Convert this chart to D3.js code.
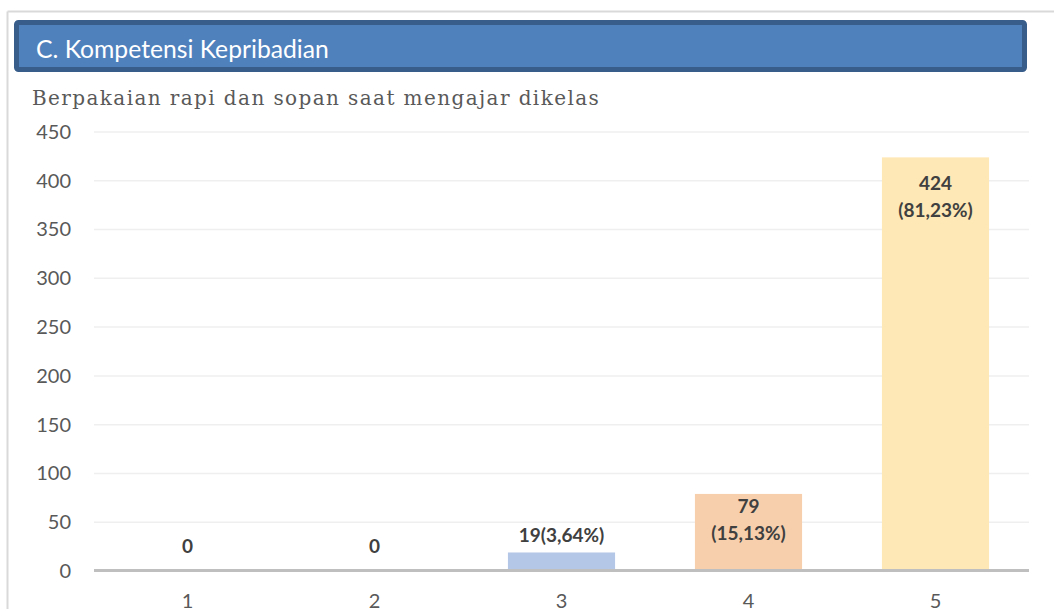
<!DOCTYPE html>
<html>
<head>
<meta charset="utf-8">
<script src="https://cdn.jsdelivr.net/npm/d3@7/dist/d3.min.js"></script>
<style>
  html, body { margin: 0; padding: 0; background: #ffffff; }
  svg { display: block; }
</style>
</head>
<body>
<script>
// Survey answers for "Berpakaian rapi dan sopan saat mengajar dikelas"
const categories = ["1", "2", "3", "4", "5"];
const counts = [0, 0, 19, 79, 424];
const percentLabels = ["", "", "3,64%", "15,13%", "81,23%"];
const barColors = ["#b4c7e7", "#b4c7e7", "#b4c7e7", "#f8cfac", "#fde8b6"];
const yTicks = [0, 50, 100, 150, 200, 250, 300, 350, 400, 450];

const W = 1054, H = 609;
const sans = "Lato, 'Open Sans', sans-serif";
const svg = d3.select("body").append("svg").attr("width", W).attr("height", H);

// outer frame
svg.append("line").attr("x1", 7.5).attr("x2", W).attr("y1", 11.5).attr("y2", 11.5)
  .attr("stroke", "#d9d9d9").attr("stroke-width", 2);
svg.append("line").attr("x1", 7.5).attr("x2", 7.5).attr("y1", 11.5).attr("y2", H)
  .attr("stroke", "#d9d9d9").attr("stroke-width", 2);

// section banner
svg.append("rect").attr("x", 16.5).attr("y", 22.5).attr("width", 1008).attr("height", 47)
  .attr("rx", 2).attr("fill", "#4f81bd").attr("stroke", "#385d8a").attr("stroke-width", 5);
svg.append("text").attr("x", 36).attr("y", 58)
  .attr("font-family", sans).attr("font-size", 24.7)
  .attr("fill", "#ffffff").text("C. Kompetensi Kepribadian");

// chart title
svg.append("text").attr("x", 32).attr("y", 105)
  .attr("font-family", "'DejaVu Serif', 'Liberation Serif', serif").attr("font-size", 20)
  .attr("letter-spacing", 1.4)
  .attr("fill", "#595959").text("Berpakaian rapi dan sopan saat mengajar dikelas");

const plot = { left: 94, right: 1029, top: 132, bottom: 571 };

const x = d3.scaleBand().domain(categories).range([plot.left, plot.right])
  .paddingInner(0.427).paddingOuter(0.2135);
const y = d3.scaleLinear().domain([0, 450]).range([plot.bottom, plot.top]);

// gridlines
svg.append("g").selectAll("line").data(yTicks.filter(d => d > 0)).join("line")
  .attr("x1", plot.left).attr("x2", plot.right)
  .attr("y1", d => y(d)).attr("y2", d => y(d))
  .attr("stroke", "#efefef").attr("stroke-width", 1.5);

// y axis labels
const yAxis = d3.axisLeft(y).tickValues(yTicks).tickSize(0).tickPadding(0);
const gy = svg.append("g").attr("transform", `translate(71,0)`).call(yAxis);
gy.select(".domain").remove();
gy.selectAll("text").attr("font-family", sans)
  .attr("font-size", 20).attr("fill", "#595959");

// bars
const data = categories.map((c, i) => ({ c, v: counts[i], p: percentLabels[i], color: barColors[i] }));
svg.append("g").selectAll("rect").data(data.filter(d => d.v > 0)).join("rect")
  .attr("x", d => x(d.c)).attr("width", x.bandwidth())
  .attr("y", d => y(d.v)).attr("height", d => y(0) - y(d.v))
  .attr("fill", d => d.color);

// x axis
const xAxis = d3.axisBottom(x).tickSize(0).tickPadding(0);
const gx = svg.append("g").attr("transform", `translate(0,${plot.bottom})`).call(xAxis);
gx.select(".domain").remove();
gx.selectAll("text").attr("font-family", sans)
  .attr("font-size", 20).attr("fill", "#595959").attr("dy", null).attr("y", 37);
svg.append("line").attr("x1", plot.left).attr("x2", plot.right)
  .attr("y1", y(0) - 0.5).attr("y2", y(0) - 0.5).attr("stroke", "#bfbfbf").attr("stroke-width", 3);

// value labels
const lbl = svg.append("g").attr("font-family", sans)
  .attr("font-size", 19).attr("font-weight", "bold").attr("fill", "#404040")
  .attr("text-anchor", "middle");
data.forEach(d => {
  const cx = x(d.c) + x.bandwidth() / 2;
  const top = y(d.v);
  if (d.v === 0) {
    lbl.append("text").attr("x", cx).attr("y", top - 18).text(d.v);
  } else if (d.v < 50) {
    lbl.append("text").attr("x", cx).attr("y", top - 10).text(`${d.v}(${d.p})`);
  } else {
    const off = (y(0) - top) > 150 ? 33 : 19;
    lbl.append("text").attr("x", cx).attr("y", top + off).text(d.v);
    lbl.append("text").attr("x", cx).attr("y", top + off + 27).text(`(${d.p})`);
  }
});
</script>
</body>
</html>
